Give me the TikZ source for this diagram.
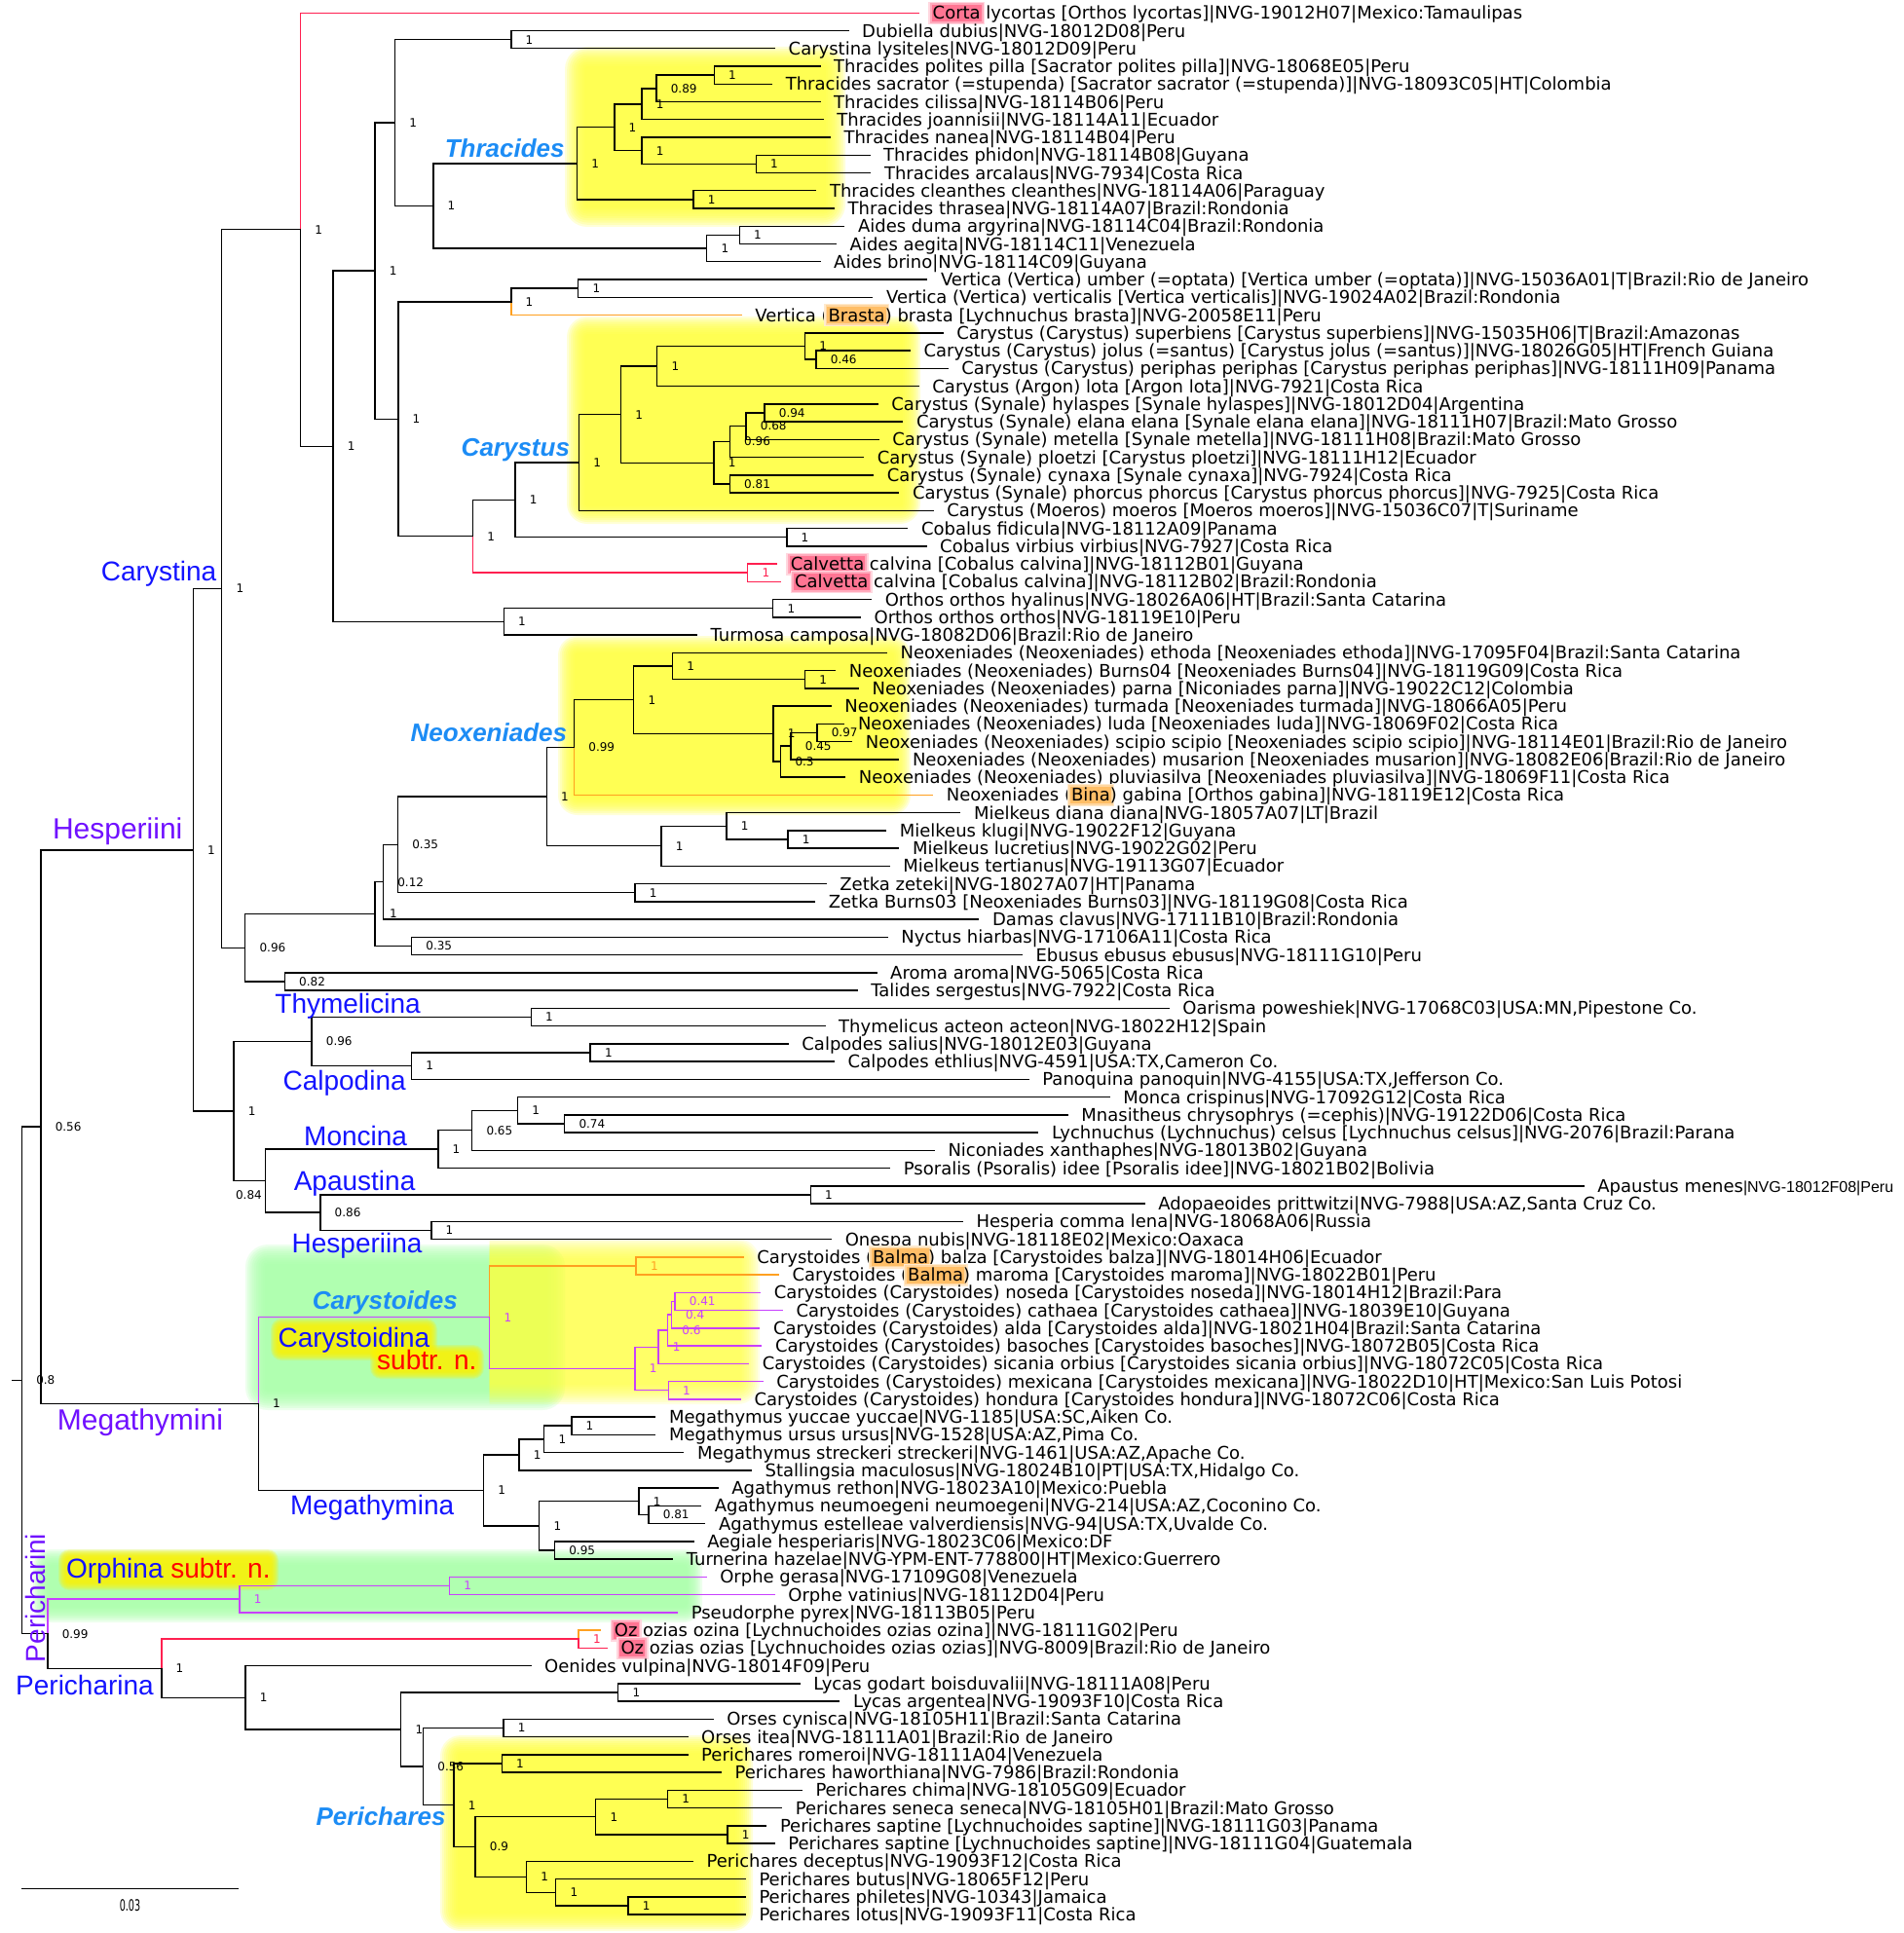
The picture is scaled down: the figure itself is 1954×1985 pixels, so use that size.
\documentclass[tikz,border=0pt]{standalone}
\usepackage{fontspec}
\setmainfont{DejaVu Sans}
\newfontfamily\arialf{Liberation Sans}
\usetikzlibrary{calc}
\definecolor{cRed}{HTML}{FF2050}
\definecolor{cOra}{HTML}{FFA020}
\definecolor{cMag}{HTML}{C840FF}
\definecolor{cTribe}{HTML}{7010FF}
\definecolor{cSub}{HTML}{1414FF}
\definecolor{cGen}{HTML}{1C8CF5}
\definecolor{cYel}{HTML}{FFFF40}
\definecolor{cGrn}{HTML}{A8FFA8}
\colorlet{colK}{black}
\colorlet{colR}{cRed}
\colorlet{colO}{cOra}
\colorlet{colM}{cMag}
\newcommand{\ly}[1]{13.3+(#1-1)*18.25}
\newlength\hlwd
\newcommand{\hlw}[4]{\settowidth{\hlwd}{#4}\leavevmode
 \rlap{\hspace*{-2.2pt}\textcolor{#1}{\rule[-2.6pt]{\dimexpr\hlwd+4.4pt\relax}{11.6pt}}}%
 \rlap{\hspace*{-1.4pt}\textcolor{#2}{\rule[-1.9pt]{\dimexpr\hlwd+2.8pt\relax}{10.2pt}}}%
 \rlap{\hspace*{-0.6pt}\textcolor{#3}{\rule[-1.1pt]{\dimexpr\hlwd+1.2pt\relax}{8.6pt}}}%
 #4}
\newcommand{\hlr}[1]{\hlw{cRed!18}{cRed!38}{cRed!62}{#1}}
\newcommand{\hlo}[1]{\hlw{cOra!22}{cOra!42}{cOra!68}{#1}}
\newcommand{\leaf}[3]{%
  \coordinate (L#1) at (#2,{\ly{#1}});
  \node[leaftext] (T#1) at ([xshift=7pt,yshift=-3.25pt]L#1) {#3};}
\newcommand{\tnx}[6]{%
  \path ($(#3)!0.5!(#5)$) coordinate (tmpc);
  \coordinate (#1) at (#2,0 |- tmpc);
  \draw[br,draw=#4] (#1) |- (#3);
  \draw[br,draw=#6] (#1) |- (#5);}
\newcommand{\tn}[8]{%
  \tnx{#1}{#2}{#3}{#4}{#5}{#6}
  \node[svl,text=#8] (s-#1) at ([xshift=7.25pt]#1) {#7};}
\newcommand{\glowbox}[7]{%
  \foreach \k in {0,...,9}{%
    \pgfmathsetmacro{\ee}{#6*\k/9}%
    \pgfmathsetmacro{\rc}{\ee*0.5+1.5}%
    \fill[#1, opacity=#7, rounded corners=\rc pt] ({#2-\ee},{#3-\ee}) rectangle ({#4+\ee},{#5+\ee});
  }}
\begin{document}
\begin{tikzpicture}[x=0.5pt,y=-0.5pt,
  br/.style={line width=0.7pt, line cap=rect},
  leaftext/.style={anchor=base west, inner sep=0pt, text height=6.8pt, text depth=1.6pt, font=\fontsize{9}{10}\selectfont},
  svl/.style={anchor=west, inner sep=0pt, font=\fontsize{6}{7}\selectfont},
  genus/.style={inner sep=0pt, font=\arialf\bfseries\itshape\fontsize{13}{15}\selectfont, text=cGen},
  subtr/.style={inner sep=0pt, font=\arialf\fontsize{14}{16}\selectfont, text=cSub},
  tribe/.style={inner sep=0pt, font=\arialf\fontsize{15}{17}\selectfont, text=cTribe}]
\useasboundingbox (0,0) rectangle (1954,1985);
\fill[white] (0,0) rectangle (1954,1985);
% highlights
\glowbox{cYel}{600}{68}{848}{213}{20}{0.2}
\glowbox{cYel}{600}{343}{927}{520}{18}{0.2}
\glowbox{cYel}{590}{670}{918}{820}{17}{0.2}
\glowbox{cGrn}{272}{1298}{560}{1428}{20}{0.2}
\begin{scope}
\clip (502.6,1200) rectangle (1100,1500);
\glowbox{cYel}{495}{1292}{760}{1422}{20}{0.14}
\end{scope}
\glowbox{cGrn}{50}{1607}{705}{1650}{16}{0.2}
\glowbox{cYel}{470}{1800}{755}{1965}{18}{0.2}
% halos behind new-subtribe labels
\glowbox{yellow}{286}{1362}{441}{1389}{8}{0.18}
\glowbox{yellow}{388}{1389}{489}{1408}{8}{0.18}
\glowbox{yellow}{68}{1599}{278}{1625}{8}{0.18}
% leaves
\leaf{1}{943.3}{\hlr{Corta} lycortas [Orthos lycortas]|NVG-19012H07|Mexico:Tamaulipas}
\leaf{2}{870.8}{Dubiella dubius|NVG-18012D08|Peru}
\leaf{3}{795.3}{Carystina lysiteles|NVG-18012D09|Peru}
\leaf{4}{841.8}{Thracides polites pilla [Sacrator polites pilla]|NVG-18068E05|Peru}
\leaf{5}{792.4}{Thracides sacrator (=stupenda) [Sacrator sacrator (=stupenda)]|NVG-18093C05|HT|Colombia}
\leaf{6}{841.8}{Thracides cilissa|NVG-18114B06|Peru}
\leaf{7}{845}{Thracides joannisii|NVG-18114A11|Ecuador}
\leaf{8}{852.1}{Thracides nanea|NVG-18114B04|Peru}
\leaf{9}{892.8}{Thracides phidon|NVG-18114B08|Guyana}
\leaf{10}{893.6}{Thracides arcalaus|NVG-7934|Costa Rica}
\leaf{11}{837.6}{Thracides cleanthes cleanthes|NVG-18114A06|Paraguay}
\leaf{12}{856.3}{Thracides thrasea|NVG-18114A07|Brazil:Rondonia}
\leaf{13}{866.6}{Aides duma argyrina|NVG-18114C04|Brazil:Rondonia}
\leaf{14}{858.3}{Aides aegita|NVG-18114C11|Venezuela}
\leaf{15}{841.8}{Aides brino|NVG-18114C09|Guyana}
\leaf{16}{951.6}{Vertica (Vertica) umber (=optata) [Vertica umber (=optata)]|NVG-15036A01|T|Brazil:Rio de Janeiro}
\leaf{17}{895.7}{Vertica (Vertica) verticalis [Vertica verticalis]|NVG-19024A02|Brazil:Rondonia}
\leaf{18}{761}{Vertica (\hlo{Brasta}) brasta [Lychnuchus brasta]|NVG-20058E11|Peru}
\leaf{19}{968}{Carystus (Carystus) superbiens [Carystus superbiens]|NVG-15035H06|T|Brazil:Amazonas}
\leaf{20}{934.2}{Carystus (Carystus) jolus (=santus) [Carystus jolus (=santus)]|NVG-18026G05|HT|French Guiana}
\leaf{21}{973}{Carystus (Carystus) periphas periphas [Carystus periphas periphas]|NVG-18111H09|Panama}
\leaf{22}{943}{Carystus (Argon) lota [Argon lota]|NVG-7921|Costa Rica}
\leaf{23}{901}{Carystus (Synale) hylaspes [Synale hylaspes]|NVG-18012D04|Argentina}
\leaf{24}{926.7}{Carystus (Synale) elana elana [Synale elana elana]|NVG-18111H07|Brazil:Mato Grosso}
\leaf{25}{902}{Carystus (Synale) metella [Synale metella]|NVG-18111H08|Brazil:Mato Grosso}
\leaf{26}{886.5}{Carystus (Synale) ploetzi [Carystus ploetzi]|NVG-18111H12|Ecuador}
\leaf{27}{896.5}{Carystus (Synale) cynaxa [Synale cynaxa]|NVG-7924|Costa Rica}
\leaf{28}{922.6}{Carystus (Synale) phorcus phorcus [Carystus phorcus phorcus]|NVG-7925|Costa Rica}
\leaf{29}{958}{Carystus (Moeros) moeros [Moeros moeros]|NVG-15036C07|T|Suriname}
\leaf{30}{931.7}{Cobalus fidicula|NVG-18112A09|Panama}
\leaf{31}{950.8}{Cobalus virbius virbius|NVG-7927|Costa Rica}
\leaf{32}{797.4}{\hlr{Calvetta} calvina [Cobalus calvina]|NVG-18112B01|Guyana}
\leaf{33}{801.6}{\hlr{Calvetta} calvina [Cobalus calvina]|NVG-18112B02|Brazil:Rondonia}
\leaf{34}{894.4}{Orthos orthos hyalinus|NVG-18026A06|HT|Brazil:Santa Catarina}
\leaf{35}{883.2}{Orthos orthos orthos|NVG-18119E10|Peru}
\leaf{36}{715.3}{Turmosa camposa|NVG-18082D06|Brazil:Rio de Janeiro}
\leaf{37}{910.2}{Neoxeniades (Neoxeniades) ethoda [Neoxeniades ethoda]|NVG-17095F04|Brazil:Santa Catarina}
\leaf{38}{857.5}{Neoxeniades (Neoxeniades) Burns04 [Neoxeniades Burns04]|NVG-18119G09|Costa Rica}
\leaf{39}{881.2}{Neoxeniades (Neoxeniades) parna [Niconiades parna]|NVG-19022C12|Colombia}
\leaf{40}{853}{Neoxeniades (Neoxeniades) turmada [Neoxeniades turmada]|NVG-18066A05|Peru}
\leaf{41}{866.6}{Neoxeniades (Neoxeniades) luda [Neoxeniades luda]|NVG-18069F02|Costa Rica}
\leaf{42}{874.5}{Neoxeniades (Neoxeniades) scipio scipio [Neoxeniades scipio scipio]|NVG-18114E01|Brazil:Rio de Janeiro}
\leaf{43}{922.6}{Neoxeniades (Neoxeniades) musarion [Neoxeniades musarion]|NVG-18082E06|Brazil:Rio de Janeiro}
\leaf{44}{867.5}{Neoxeniades (Neoxeniades) pluviasilva [Neoxeniades pluviasilva]|NVG-18069F11|Costa Rica}
\leaf{45}{957.4}{Neoxeniades (\hlo{Bina}) gabina [Orthos gabina]|NVG-18119E12|Costa Rica}
\leaf{46}{985.6}{Mielkeus diana diana|NVG-18057A07|LT|Brazil}
\leaf{47}{909.4}{Mielkeus klugi|NVG-19022F12|Guyana}
\leaf{48}{922.6}{Mielkeus lucretius|NVG-19022G02|Peru}
\leaf{49}{913}{Mielkeus tertianus|NVG-19113G07|Ecuador}
\leaf{50}{848}{Zetka zeteki|NVG-18027A07|HT|Panama}
\leaf{51}{836.4}{Zetka Burns03 [Neoxeniades Burns03]|NVG-18119G08|Costa Rica}
\leaf{52}{1004.7}{Damas clavus|NVG-17111B10|Brazil:Rondonia}
\leaf{53}{911}{Nyctus hiarbas|NVG-17106A11|Costa Rica}
\leaf{54}{1049.1}{Ebusus ebusus ebusus|NVG-18111G10|Peru}
\leaf{55}{899.8}{Aroma aroma|NVG-5065|Costa Rica}
\leaf{56}{879.9}{Talides sergestus|NVG-7922|Costa Rica}
\leaf{57}{1200}{Oarisma poweshiek|NVG-17068C03|USA:MN,Pipestone Co.}
\leaf{58}{846.8}{Thymelicus acteon acteon|NVG-18022H12|Spain}
\leaf{59}{809}{Calpodes salius|NVG-18012E03|Guyana}
\leaf{60}{856.3}{Calpodes ethlius|NVG-4591|USA:TX,Cameron Co.}
\leaf{61}{1056}{Panoquina panoquin|NVG-4155|USA:TX,Jefferson Co.}
\leaf{62}{1139}{Monca crispinus|NVG-17092G12|Costa Rica}
\leaf{63}{1096}{Mnasitheus chrysophrys (=cephis)|NVG-19122D06|Costa Rica}
\leaf{64}{1065.6}{Lychnuchus (Lychnuchus) celsus [Lychnuchus celsus]|NVG-2076|Brazil:Parana}
\leaf{65}{959.1}{Niconiades xanthaphes|NVG-18013B02|Guyana}
\leaf{66}{913.5}{Psoralis (Psoralis) idee [Psoralis idee]|NVG-18021B02|Bolivia}
\leaf{67}{1626}{Apaustus menes{\arialf\fontsize{8}{9}\selectfont|NVG-18012F08|Peru}}
\leaf{68}{1175}{Adopaeoides prittwitzi|NVG-7988|USA:AZ,Santa Cruz Co.}
\leaf{69}{988.1}{Hesperia comma lena|NVG-18068A06|Russia}
\leaf{70}{853.4}{Onespa nubis|NVG-18118E02|Mexico:Oaxaca}
\leaf{71}{763}{Carystoides (\hlo{Balma}) balza [Carystoides balza]|NVG-18014H06|Ecuador}
\leaf{72}{799.1}{Carystoides (\hlo{Balma}) maroma [Carystoides maroma]|NVG-18022B01|Peru}
\leaf{73}{780.4}{Carystoides (Carystoides) noseda [Carystoides noseda]|NVG-18014H12|Brazil:Para}
\leaf{74}{803.2}{Carystoides (Carystoides) cathaea [Carystoides cathaea]|NVG-18039E10|Guyana}
\leaf{75}{779.6}{Carystoides (Carystoides) alda [Carystoides alda]|NVG-18021H04|Brazil:Santa Catarina}
\leaf{76}{781.7}{Carystoides (Carystoides) basoches [Carystoides basoches]|NVG-18072B05|Costa Rica}
\leaf{77}{768.4}{Carystoides (Carystoides) sicania orbius [Carystoides sicania orbius]|NVG-18072C05|Costa Rica}
\leaf{78}{782.9}{Carystoides (Carystoides) mexicana [Carystoides mexicana]|NVG-18022D10|HT|Mexico:San Luis Potosi}
\leaf{79}{760.1}{Carystoides (Carystoides) hondura [Carystoides hondura]|NVG-18072C06|Costa Rica}
\leaf{80}{672.6}{Megathymus yuccae yuccae|NVG-1185|USA:SC,Aiken Co.}
\leaf{81}{672.6}{Megathymus ursus ursus|NVG-1528|USA:AZ,Pima Co.}
\leaf{82}{701.6}{Megathymus streckeri streckeri|NVG-1461|USA:AZ,Apache Co.}
\leaf{83}{771.3}{Stallingsia maculosus|NVG-18024B10|PT|USA:TX,Hidalgo Co.}
\leaf{84}{736.9}{Agathymus rethon|NVG-18023A10|Mexico:Puebla}
\leaf{85}{719.5}{Agathymus neumoegeni neumoegeni|NVG-214|USA:AZ,Coconino Co.}
\leaf{86}{723.6}{Agathymus estelleae valverdiensis|NVG-94|USA:TX,Uvalde Co.}
\leaf{87}{712}{Aegiale hesperiaris|NVG-18023C06|Mexico:DF}
\leaf{88}{690.5}{Turnerina hazelae|NVG-YPM-ENT-778800|HT|Mexico:Guerrero}
\leaf{89}{724.9}{Orphe gerasa|NVG-17109G08|Venezuela}
\leaf{90}{795}{Orphe vatinius|NVG-18112D04|Peru}
\leaf{91}{695.4}{Pseudorphe pyrex|NVG-18113B05|Peru}
\leaf{92}{616.5}{\hlr{Oz} ozias ozina [Lychnuchoides ozias ozina]|NVG-18111G02|Peru}
\leaf{93}{623.1}{\hlr{Oz} ozias ozias [Lychnuchoides ozias ozias]|NVG-8009|Brazil:Rio de Janeiro}
\leaf{94}{544.8}{Oenides vulpina|NVG-18014F09|Peru}
\leaf{95}{821}{Lycas godart boisduvalii|NVG-18111A08|Peru}
\leaf{96}{861.7}{Lycas argentea|NVG-19093F10|Costa Rica}
\leaf{97}{731.9}{Orses cynisca|NVG-18105H11|Brazil:Santa Catarina}
\leaf{98}{705.8}{Orses itea|NVG-18111A01|Brazil:Rio de Janeiro}
\leaf{99}{705.8}{Perichares romeroi|NVG-18111A04|Venezuela}
\leaf{100}{740.2}{Perichares haworthiana|NVG-7986|Brazil:Rondonia}
\leaf{101}{823.1}{Perichares chima|NVG-18105G09|Ecuador}
\leaf{102}{802.4}{Perichares seneca seneca|NVG-18105H01|Brazil:Mato Grosso}
\leaf{103}{786.6}{Perichares saptine [Lychnuchoides saptine]|NVG-18111G03|Panama}
\leaf{104}{794.9}{Perichares saptine [Lychnuchoides saptine]|NVG-18111G04|Guatemala}
\leaf{105}{711.2}{Perichares deceptus|NVG-19093F12|Costa Rica}
\leaf{106}{765.1}{Perichares butus|NVG-18065F12|Peru}
\leaf{107}{765.1}{Perichares philetes|NVG-10343|Jamaica}
\leaf{108}{765.1}{Perichares lotus|NVG-19093F11|Costa Rica}
% tree
\tn{N733a}{733.2}{L4}{colK}{L5}{colK}{1}{colK}
\tn{N674}{673.9}{N733a}{colK}{L6}{colK}{0.89}{colK}
\tn{N659a}{659}{N674}{colK}{L7}{colK}{1}{colK}
\tn{N776}{776.3}{L9}{colK}{L10}{colK}{1}{colK}
\tn{N659b}{659}{L8}{colK}{N776}{colK}{1}{colK}
\tn{N631}{630.8}{N659a}{colK}{N659b}{colK}{1}{colK}
\tn{N712}{712}{L11}{colK}{L12}{colK}{1}{colK}
\tn{THR}{592.4}{N631}{colK}{N712}{colK}{1}{colK}
\tn{N759}{759.3}{L13}{colK}{L14}{colK}{1}{colK}
\tn{AID}{725.7}{N759}{colK}{L15}{colK}{1}{colK}
\tn{N445}{444.8}{THR}{colK}{AID}{colK}{1}{colK}
\tn{N525a}{524.8}{L2}{colK}{L3}{colK}{1}{colK}
\tn{N405}{405.4}{N525a}{colK}{N445}{colK}{1}{colK}
\tn{N594v}{593.6}{L16}{colK}{L17}{colK}{1}{colK}
\tn{VER}{524.8}{N594v}{colK}{L18}{colO}{1}{colK}
\tn{N838}{838}{L20}{colK}{L21}{colK}{0.46}{colK}
\tn{N826}{826.4}{L19}{colK}{N838}{colK}{1}{colK}
\tn{N675}{674.7}{N826}{colK}{L22}{colK}{1}{colK}
\tn{N785}{785}{L23}{colK}{L24}{colK}{0.94}{colK}
\tn{N766}{766}{N785}{colK}{L25}{colK}{0.68}{colK}
\tn{N749a}{749.3}{N766}{colK}{L26}{colK}{0.96}{colK}
\tn{N749b}{749.3}{L27}{colK}{L28}{colK}{0.81}{colK}
\tn{SYN}{733}{N749a}{colK}{N749b}{colK}{1}{colK}
\tn{N637}{637.4}{N675}{colK}{SYN}{colK}{1}{colK}
\tn{CRY}{594.5}{N637}{colK}{L29}{colK}{1}{colK}
\tn{COB}{807.8}{L30}{colK}{L31}{colK}{1}{colK}
\tn{N529}{529}{CRY}{colK}{COB}{colK}{1}{colK}
\tn{CAL}{767.6}{L32}{colR}{L33}{colR}{1}{colR}
\tn{N485}{485.5}{N529}{colK}{CAL}{colR}{1}{colK}
\tn{N409}{408.8}{VER}{colK}{N485}{colK}{1}{colK}
\tn{N385}{385}{N405}{colK}{N409}{colK}{1}{colK}
\tn{ORT}{793.7}{L34}{colK}{L35}{colK}{1}{colK}
\tn{N517}{517.2}{ORT}{colK}{L36}{colK}{1}{colK}
\tn{N342}{342}{N385}{colK}{N517}{colK}{1}{colK}
\tn{N308}{308.4}{L1}{colR}{N342}{colK}{1}{colK}
\tn{N826b}{826.4}{L38}{colK}{L39}{colK}{1}{colK}
\tn{N690}{690.5}{L37}{colK}{N826b}{colK}{1}{colK}
\tn{N839}{838.9}{L41}{colK}{L42}{colK}{0.97}{colK}
\tn{N812}{812}{N839}{colK}{L43}{colK}{0.45}{colK}
\tn{N802}{801.6}{N812}{colK}{L44}{colK}{0.3}{colK}
\tn{N794}{794}{L40}{colK}{N802}{colK}{1}{colK}
\tn{N651}{650.7}{N690}{colK}{N794}{colK}{1}{colK}
\tn{NEO}{589.5}{N651}{colK}{L45}{colO}{0.99}{colK}
\tn{N809}{809}{L47}{colK}{L48}{colK}{1}{colK}
\tn{N746}{746}{L46}{colK}{N809}{colK}{1}{colK}
\tn{MIE}{678.9}{N746}{colK}{L49}{colK}{1}{colK}
\tn{N561}{561.3}{NEO}{colK}{MIE}{colK}{1}{colK}
\tn{ZET}{651.9}{L50}{colK}{L51}{colK}{1}{colK}
\tn{N408}{408.4}{N561}{colK}{ZET}{colK}{0.35}{colK}
\tn{N393}{393.4}{N408}{colK}{L52}{colK}{0.12}{colK}
\tn{NYC}{422.5}{L53}{colK}{L54}{colK}{0.35}{colK}
\tn{N385b}{385.1}{N393}{colK}{NYC}{colK}{1}{colK}
\tn{N292}{292.3}{L55}{colK}{L56}{colK}{0.82}{colK}
\tn{N2517}{251.7}{N385b}{colK}{N292}{colK}{0.96}{colK}
\tn{CAR}{227.6}{N308}{colK}{N2517}{colK}{1}{colK}
\tn{THY}{545.2}{L57}{colK}{L58}{colK}{1}{colK}
\tn{N606}{606.1}{L59}{colK}{L60}{colK}{1}{colK}
\tn{CLP}{422.5}{N606}{colK}{L61}{colK}{1}{colK}
\tn{N320}{320}{THY}{colK}{CLP}{colK}{0.96}{colK}
\tn{N580}{579.6}{L63}{colK}{L64}{colK}{0.74}{colK}
\tn{N531}{531.5}{L62}{colK}{N580}{colK}{1}{colK}
\tn{N485m}{484.6}{N531}{colK}{L65}{colK}{0.65}{colK}
\tn{MON}{449.8}{N485m}{colK}{L66}{colK}{1}{colK}
\tn{N832}{832.3}{L67}{colK}{L68}{colK}{1}{colK}
\tn{HSP}{442.8}{L69}{colK}{L70}{colK}{1}{colK}
\tn{APA}{328.8}{N832}{colK}{HSP}{colK}{0.86}{colK}
\tnx{N272}{272.4}{MON}{colK}{APA}{colK}
\node[svl] (s-N272) at (241.7,1226.7) {0.84};
\tn{N240}{240}{N320}{colK}{N272}{colK}{1}{colK}
\tn{HES}{198.2}{CAR}{colK}{N240}{colK}{1}{colK}
\tn{BAL}{653.1}{L71}{colO}{L72}{colO}{1}{colO}
\tn{N693}{693}{L73}{colM}{L74}{colM}{0.41}{colM}
\tn{N689}{689.2}{N693}{colM}{L75}{colM}{0.4}{colM}
\tn{N685}{685.5}{N689}{colM}{L76}{colM}{0.6}{colM}
\tn{N676}{676}{N685}{colM}{L77}{colM}{1}{colM}
\tn{N686}{686.3}{L78}{colM}{L79}{colM}{1}{colM}
\tn{CSS}{651.9}{N676}{colM}{N686}{colM}{1}{colM}
\tn{CTD}{502.6}{BAL}{colO}{CSS}{colM}{1}{colM}
\tn{N587}{586.8}{L80}{colK}{L81}{colK}{1}{colK}
\tn{N559}{558.6}{N587}{colK}{L82}{colK}{1}{colK}
\tn{N533}{532.9}{N559}{colK}{L83}{colK}{1}{colK}
\tn{N666}{666}{L85}{colK}{L86}{colK}{0.81}{colK}
\tn{N656}{656}{L84}{colK}{N666}{colK}{1}{colK}
\tn{N569}{569.4}{L87}{colK}{L88}{colK}{0.95}{colK}
\tn{N554}{553.6}{N656}{colK}{N569}{colK}{1}{colK}
\tn{MGT}{496.4}{N533}{colK}{N554}{colK}{1}{colK}
\tn{MEG}{265.3}{CTD}{colM}{MGT}{colK}{1}{colK}
\tn{H0}{41.9}{HES}{colK}{MEG}{colK}{0.56}{colK}
\tn{ORF}{461.4}{L89}{colM}{L90}{colM}{1}{colM}
\tn{ORP}{245.9}{ORF}{colM}{L91}{colM}{1}{colM}
\tn{OZ}{594.1}{L92}{colO}{L93}{colR}{1}{colR}
\tn{LYC}{634.7}{L95}{colK}{L96}{colK}{1}{colK}
\tn{ORS}{517}{L97}{colK}{L98}{colK}{1}{colK}
\tn{N515}{515.3}{L99}{colK}{L100}{colK}{1}{colK}
\tn{N685p}{685.5}{L101}{colK}{L102}{colK}{1}{colK}
\tn{N747}{746.9}{L103}{colK}{L104}{colK}{1}{colK}
\tn{N612}{611.7}{N685p}{colK}{N747}{colK}{1}{colK}
\tn{N645}{644.9}{L107}{colK}{L108}{colK}{1}{colK}
\tn{N571}{570.6}{L106}{colK}{N645}{colK}{1}{colK}
\tn{N540}{540.4}{L105}{colK}{N571}{colK}{1}{colK}
\tn{N488}{488}{N612}{colK}{N540}{colK}{0.9}{colK}
\tn{N466}{466}{N515}{colK}{N488}{colK}{1}{colK}
\tn{N434}{434.5}{ORS}{colK}{N466}{colK}{0.56}{colK}
\tn{N412}{411.7}{LYC}{colK}{N434}{colK}{1}{colK}
\tn{N252}{252}{L94}{colK}{N412}{colK}{1}{colK}
\tn{PCH}{165.8}{OZ}{colR}{N252}{colK}{1}{colK}
\tn{P1}{48.9}{ORP}{colM}{PCH}{colK}{0.99}{colK}
\tn{R}{22.4}{H0}{colK}{P1}{colK}{0.8}{colK}
\coordinate (R0) at (12.4,0 |- R);
\draw[br] (R0) -- (R);
% scale bar
\coordinate (SB1) at (22.4,1939.3);
\coordinate (SB2) at (244.6,1939.3);
\draw[br] (SB1) -- (SB2);
\node[inner sep=0pt, font=\fontsize{8}{9}\selectfont, xscale=0.6] (sbl) at (133.5,1956.7) {0.03};
% group labels
\node[genus, anchor=base east] (gThr) at (580,162) {Thracides};
\node[genus, anchor=base east] (gCry) at (585.4,468.5) {Carystus};
\node[genus, anchor=base east] (gNeo) at (582.5,761.5) {Neoxeniades};
\node[genus, anchor=base west] (gCtd) at (320.5,1344.5) {Carystoides};
\node[genus, anchor=base east] (gPer) at (458,1874) {Perichares};
\node[subtr, anchor=base east] (tCar) at (222.6,596.7) {Carystina};
\node[tribe, anchor=base east] (tHes) at (187.8,861.7) {Hesperiini};
\node[subtr, anchor=base west] (tThy) at (282,1040) {Thymelicina};
\node[subtr, anchor=base west] (tClp) at (290.2,1119.3) {Calpodina};
\node[subtr, anchor=base west] (tMon) at (311.8,1176) {Moncina};
\node[subtr, anchor=base west] (tApa) at (301.4,1222.3) {Apaustina};
\node[subtr, anchor=base west] (tHsp) at (299.3,1286) {Hesperiina};
\node[subtr, anchor=base west] (tCtd) at (285.2,1383) {Carystoidina};
\node[subtr, anchor=base west, text=red] (tCtdN) at (386.8,1406) {subtr. n.};
\node[tribe, anchor=base west] (tMeg) at (58.5,1468) {Megathymini};
\node[subtr, anchor=base west] (tMgt) at (297.7,1555) {Megathymina};
\node[subtr, anchor=base west] (tOrp) at (67.6,1620) {Orphina \textcolor{red}{subtr. n.}};
\node[subtr, anchor=base west] (tPcn) at (15.8,1740) {Pericharina};
\node[tribe, rotate=90, font=\arialf\fontsize{14}{16}\selectfont] (tPci) at (36.5,1641) {Pericharini};
\end{tikzpicture}
\end{document}
